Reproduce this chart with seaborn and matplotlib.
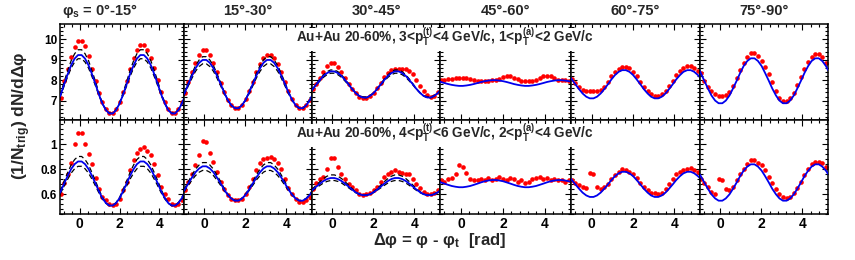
import matplotlib
matplotlib.use('Agg')
import matplotlib.pyplot as plt
import seaborn as sns
from matplotlib.ticker import MultipleLocator, FormatStrFormatter
from matplotlib.patches import Rectangle

# ---------------- data ----------------
dphi = [-0.96, -0.79, -0.61, -0.44, -0.26, -0.09, 0.09, 0.26, 0.44, 0.61, 0.79, 0.96,
        1.13, 1.31, 1.48, 1.66, 1.83, 2.01, 2.18, 2.36, 2.53, 2.71, 2.88, 3.05,
        3.23, 3.40, 3.58, 3.75, 3.93, 4.10, 4.28, 4.45, 4.63, 4.80, 4.97, 5.15]
curve_x = [-1.0, -0.96, -0.79, -0.61, -0.44, -0.26, -0.09, 0.09, 0.26, 0.44, 0.61, 0.79, 0.96,
           1.13, 1.31, 1.48, 1.66, 1.83, 2.01, 2.18, 2.36, 2.53, 2.71, 2.88, 3.05,
           3.23, 3.40, 3.58, 3.75, 3.93, 4.10, 4.28, 4.45, 4.63, 4.80, 4.97, 5.15, 5.25]

titles = ["0\u00b0-15\u00b0", "15\u00b0-30\u00b0", "30\u00b0-45\u00b0",
          "45\u00b0-60\u00b0", "60\u00b0-75\u00b0", "75\u00b0-90\u00b0"]

# top row: 3<pT(t)<4, 1<pT(a)<2
red_top_0_15 = [7.15, 7.95, 8.55, 9.15, 9.62, 9.90, 9.90, 9.65, 9.18, 8.55, 7.95, 7.35, 6.92, 6.58, 6.40, 6.40, 6.60, 6.95,
                7.42, 7.98, 8.55, 9.08, 9.48, 9.70, 9.70, 9.50, 9.10, 8.58, 8.00, 7.42, 6.95, 6.60, 6.40, 6.40, 6.58, 6.92]
red_top_15_30 = [7.35, 7.90, 8.40, 8.85, 9.25, 9.50, 9.50, 9.25, 8.85, 8.38, 7.88, 7.42, 7.05, 6.78, 6.63, 6.63, 6.78, 7.08,
                 7.48, 7.92, 8.38, 8.78, 9.08, 9.25, 9.25, 9.10, 8.80, 8.38, 7.90, 7.45, 7.06, 6.78, 6.62, 6.62, 6.76, 7.04]
red_top_30_45 = [7.55, 7.82, 8.12, 8.42, 8.68, 8.85, 8.85, 8.65, 8.40, 8.10, 7.82, 7.55, 7.35, 7.20, 7.12, 7.12, 7.22, 7.38,
                 7.62, 7.88, 8.15, 8.35, 8.48, 8.55, 8.56, 8.56, 8.55, 8.45, 8.28, 8.02, 7.72, 7.45, 7.25, 7.17, 7.22, 7.40]
red_top_45_60 = [8.00, 8.02, 8.05, 8.08, 8.10, 8.12, 8.12, 8.10, 8.05, 8.00, 7.98, 7.97, 7.98, 7.98, 8.00, 8.02, 8.08, 8.15,
                 8.22, 8.20, 8.12, 8.05, 7.98, 7.95, 7.95, 7.98, 8.03, 8.10, 8.18, 8.22, 8.18, 8.10, 8.02, 8.00, 8.00, 7.98]
red_top_60_75 = [8.05, 7.85, 7.66, 7.52, 7.46, 7.45, 7.45, 7.46, 7.52, 7.68, 7.92, 8.18, 8.40, 8.56, 8.64, 8.64, 8.58, 8.42,
                 8.18, 7.92, 7.66, 7.45, 7.30, 7.24, 7.24, 7.32, 7.48, 7.72, 7.98, 8.24, 8.46, 8.60, 8.68, 8.68, 8.60, 8.45]
red_top_75_90 = [8.35, 7.98, 7.68, 7.45, 7.30, 7.24, 7.24, 7.28, 7.42, 7.72, 8.10, 8.50, 8.85, 9.15, 9.32, 9.32, 9.18, 8.95,
                 8.65, 8.30, 7.90, 7.45, 7.12, 6.98, 6.98, 7.12, 7.38, 7.75, 8.15, 8.55, 8.90, 9.15, 9.30, 9.30, 9.12, 8.85]

blue_top_0_15 = [7.20, 7.30, 7.80, 8.30, 8.73, 9.06, 9.23, 9.23, 9.06, 8.73, 8.30, 7.80, 7.30, 6.87, 6.54, 6.37, 6.37, 6.54, 6.87,
                 7.30, 7.80, 8.30, 8.73, 9.06, 9.23, 9.23, 9.06, 8.73, 8.30, 7.80, 7.30, 6.87, 6.54, 6.37, 6.37, 6.54, 6.87, 7.11]
blue_top_15_30 = [7.31, 7.40, 7.81, 8.22, 8.58, 8.85, 8.99, 8.99, 8.85, 8.58, 8.22, 7.81, 7.40, 7.04, 6.77, 6.63, 6.63, 6.77, 7.04,
                  7.40, 7.81, 8.22, 8.58, 8.85, 8.99, 8.99, 8.85, 8.58, 8.22, 7.81, 7.40, 7.04, 6.77, 6.63, 6.63, 6.77, 7.04, 7.24]
blue_top_30_45 = [7.52, 7.57, 7.79, 8.01, 8.21, 8.35, 8.43, 8.43, 8.35, 8.21, 8.01, 7.79, 7.57, 7.37, 7.23, 7.15, 7.15, 7.23, 7.37,
                  7.57, 7.79, 8.01, 8.21, 8.35, 8.43, 8.43, 8.35, 8.21, 8.01, 7.79, 7.57, 7.37, 7.23, 7.15, 7.15, 7.23, 7.37, 7.48]
blue_top_45_60 = [7.92, 7.91, 7.86, 7.81, 7.77, 7.74, 7.72, 7.72, 7.74, 7.77, 7.81, 7.86, 7.91, 7.95, 7.98, 8.00, 8.00, 7.98, 7.95,
                  7.91, 7.86, 7.81, 7.77, 7.74, 7.72, 7.72, 7.74, 7.77, 7.81, 7.86, 7.91, 7.95, 7.98, 8.00, 8.00, 7.98, 7.95, 7.93]
blue_top_60_75 = [8.09, 8.04, 7.80, 7.56, 7.35, 7.19, 7.11, 7.11, 7.19, 7.35, 7.56, 7.80, 8.04, 8.25, 8.41, 8.49, 8.49, 8.41, 8.25,
                  8.04, 7.80, 7.56, 7.35, 7.19, 7.11, 7.11, 7.19, 7.35, 7.56, 7.80, 8.04, 8.25, 8.41, 8.49, 8.49, 8.41, 8.25, 8.13]
blue_top_75_90 = [8.44, 8.35, 7.97, 7.59, 7.25, 7.00, 6.87, 6.87, 7.00, 7.25, 7.59, 7.97, 8.35, 8.69, 8.94, 9.07, 9.07, 8.94, 8.69,
                  8.35, 7.97, 7.59, 7.25, 7.00, 6.87, 6.87, 7.00, 7.25, 7.59, 7.97, 8.35, 8.69, 8.94, 9.07, 9.07, 8.94, 8.69, 8.50]

dashhi_top_0_15 = [7.27, 7.39, 7.93, 8.47, 8.95, 9.30, 9.49, 9.49, 9.30, 8.95, 8.47, 7.93, 7.39, 6.91, 6.56, 6.37, 6.37, 6.56, 6.91,
                   7.39, 7.93, 8.47, 8.95, 9.30, 9.49, 9.49, 9.30, 8.95, 8.47, 7.93, 7.39, 6.91, 6.56, 6.37, 6.37, 6.56, 6.91, 7.18]
dashlo_top_0_15 = [7.16, 7.26, 7.72, 8.18, 8.59, 8.89, 9.05, 9.05, 8.89, 8.59, 8.18, 7.72, 7.26, 6.85, 6.55, 6.39, 6.39, 6.55, 6.85,
                   7.26, 7.72, 8.18, 8.59, 8.89, 9.05, 9.05, 8.89, 8.59, 8.18, 7.72, 7.26, 6.85, 6.55, 6.39, 6.39, 6.55, 6.85, 7.08]
dashhi_top_15_30 = [7.34, 7.44, 7.88, 8.32, 8.71, 8.99, 9.15, 9.15, 8.99, 8.71, 8.32, 7.88, 7.44, 7.05, 6.76, 6.61, 6.61, 6.76, 7.05,
                    7.44, 7.88, 8.32, 8.71, 8.99, 9.15, 9.15, 8.99, 8.71, 8.32, 7.88, 7.44, 7.05, 6.76, 6.61, 6.61, 6.76, 7.05, 7.27]
dashlo_top_15_30 = [7.26, 7.34, 7.72, 8.10, 8.43, 8.67, 8.80, 8.80, 8.67, 8.43, 8.10, 7.72, 7.34, 7.01, 6.77, 6.64, 6.64, 6.77, 7.01,
                    7.34, 7.72, 8.10, 8.43, 8.67, 8.80, 8.80, 8.67, 8.43, 8.10, 7.72, 7.34, 7.01, 6.77, 6.64, 6.64, 6.77, 7.01, 7.20]
dashhi_top_30_45 = [7.53, 7.58, 7.82, 8.06, 8.26, 8.42, 8.50, 8.50, 8.42, 8.26, 8.06, 7.82, 7.58, 7.38, 7.22, 7.14, 7.14, 7.22, 7.38,
                    7.58, 7.82, 8.06, 8.26, 8.42, 8.50, 8.50, 8.42, 8.26, 8.06, 7.82, 7.58, 7.38, 7.22, 7.14, 7.14, 7.22, 7.38, 7.49]
dashlo_top_30_45 = [7.51, 7.56, 7.76, 7.96, 8.14, 8.27, 8.34, 8.34, 8.27, 8.14, 7.96, 7.76, 7.56, 7.38, 7.25, 7.18, 7.18, 7.25, 7.38,
                    7.56, 7.76, 7.96, 8.14, 8.27, 8.34, 8.34, 8.27, 8.14, 7.96, 7.76, 7.56, 7.38, 7.25, 7.18, 7.18, 7.25, 7.38, 7.48]

# bottom row: 4<pT(t)<6, 2<pT(a)<4
red_bot_0_15 = [0.60, 0.69, 0.76, 0.85, 1.00, 1.09, 1.09, 1.00, 0.92, 0.84, 0.73, 0.64, 0.58, 0.55, 0.52, 0.51, 0.52, 0.56,
                0.63, 0.70, 0.79, 0.87, 0.93, 0.96, 0.975, 0.95, 0.91, 0.84, 0.75, 0.66, 0.60, 0.56, 0.52, 0.51, 0.52, 0.55]
red_bot_15_30 = [0.63, 0.70, 0.76, 0.83, 0.91, 1.03, 1.02, 0.93, 0.86, 0.78, 0.70, 0.64, 0.59, 0.56, 0.55, 0.55, 0.56, 0.60,
                 0.66, 0.72, 0.79, 0.85, 0.88, 0.89, 0.90, 0.88, 0.85, 0.80, 0.72, 0.65, 0.60, 0.56, 0.54, 0.54, 0.55, 0.58]
red_bot_30_45 = [0.64, 0.69, 0.72, 0.74, 0.80, 0.89, 0.89, 0.82, 0.76, 0.72, 0.68, 0.66, 0.63, 0.60, 0.59, 0.60, 0.61, 0.63,
                 0.66, 0.70, 0.74, 0.76, 0.78, 0.79, 0.78, 0.77, 0.76, 0.76, 0.72, 0.68, 0.65, 0.62, 0.60, 0.60, 0.61, 0.63]
red_bot_45_60 = [0.71, 0.70, 0.72, 0.73, 0.76, 0.83, 0.82, 0.77, 0.72, 0.71, 0.71, 0.72, 0.71, 0.73, 0.71, 0.72, 0.74, 0.72,
                 0.71, 0.73, 0.72, 0.70, 0.71, 0.69, 0.70, 0.72, 0.73, 0.74, 0.72, 0.73, 0.71, 0.72, 0.71, 0.71, 0.70, 0.71]
red_bot_60_75 = [0.71, 0.69, 0.67, 0.66, 0.65, 0.77, 0.76, 0.66, 0.64, 0.66, 0.68, 0.72, 0.75, 0.78, 0.80, 0.79, 0.78, 0.76,
                 0.73, 0.69, 0.66, 0.63, 0.61, 0.61, 0.60, 0.61, 0.64, 0.68, 0.72, 0.76, 0.78, 0.79, 0.80, 0.81, 0.79, 0.78]
red_bot_75_90 = [0.72, 0.69, 0.66, 0.62, 0.60, 0.72, 0.71, 0.64, 0.63, 0.66, 0.71, 0.76, 0.80, 0.84, 0.87, 0.87, 0.85, 0.83,
                 0.79, 0.74, 0.69, 0.64, 0.60, 0.58, 0.57, 0.58, 0.61, 0.65, 0.70, 0.75, 0.80, 0.84, 0.86, 0.86, 0.85, 0.82]

blue_bot_0_15 = [0.610, 0.623, 0.685, 0.747, 0.801, 0.841, 0.862, 0.862, 0.841, 0.801, 0.747, 0.685, 0.623, 0.569, 0.529, 0.508, 0.508, 0.529, 0.569,
                 0.623, 0.685, 0.747, 0.801, 0.841, 0.862, 0.862, 0.841, 0.801, 0.747, 0.685, 0.623, 0.569, 0.529, 0.508, 0.508, 0.529, 0.569, 0.600]
blue_bot_15_30 = [0.627, 0.637, 0.685, 0.733, 0.775, 0.806, 0.823, 0.823, 0.806, 0.775, 0.733, 0.685, 0.637, 0.595, 0.564, 0.547, 0.547, 0.564, 0.595,
                  0.637, 0.685, 0.733, 0.775, 0.806, 0.823, 0.823, 0.806, 0.775, 0.733, 0.685, 0.637, 0.595, 0.564, 0.547, 0.547, 0.564, 0.595, 0.618]
blue_bot_30_45 = [0.631, 0.636, 0.660, 0.684, 0.705, 0.721, 0.729, 0.729, 0.721, 0.705, 0.684, 0.660, 0.636, 0.615, 0.599, 0.591, 0.591, 0.599, 0.615,
                  0.636, 0.660, 0.684, 0.705, 0.721, 0.729, 0.729, 0.721, 0.705, 0.684, 0.660, 0.636, 0.615, 0.599, 0.591, 0.591, 0.599, 0.615, 0.627]
blue_bot_45_60 = [0.696, 0.694, 0.684, 0.674, 0.665, 0.659, 0.655, 0.655, 0.659, 0.665, 0.674, 0.684, 0.694, 0.703, 0.709, 0.713, 0.713, 0.709, 0.703,
                  0.694, 0.684, 0.674, 0.665, 0.659, 0.655, 0.655, 0.659, 0.665, 0.674, 0.684, 0.694, 0.703, 0.709, 0.713, 0.713, 0.709, 0.703, 0.698]
blue_bot_60_75 = [0.721, 0.713, 0.678, 0.643, 0.612, 0.589, 0.577, 0.577, 0.589, 0.612, 0.643, 0.678, 0.713, 0.744, 0.767, 0.779, 0.779, 0.767, 0.744,
                  0.713, 0.678, 0.643, 0.612, 0.589, 0.577, 0.577, 0.589, 0.612, 0.643, 0.678, 0.713, 0.744, 0.767, 0.779, 0.779, 0.767, 0.744, 0.727]
blue_bot_75_90 = [0.755, 0.744, 0.693, 0.642, 0.598, 0.565, 0.547, 0.547, 0.565, 0.598, 0.642, 0.693, 0.744, 0.788, 0.821, 0.839, 0.839, 0.821, 0.788,
                  0.744, 0.693, 0.642, 0.598, 0.565, 0.547, 0.547, 0.565, 0.598, 0.642, 0.693, 0.744, 0.788, 0.821, 0.839, 0.839, 0.821, 0.788, 0.763]

dashhi_bot_0_15 = [0.622, 0.637, 0.705, 0.773, 0.834, 0.878, 0.902, 0.902, 0.878, 0.834, 0.773, 0.705, 0.637, 0.576, 0.532, 0.508, 0.508, 0.532, 0.576,
                   0.637, 0.705, 0.773, 0.834, 0.878, 0.902, 0.902, 0.878, 0.834, 0.773, 0.705, 0.637, 0.576, 0.532, 0.508, 0.508, 0.532, 0.576, 0.610]
dashlo_bot_0_15 = [0.598, 0.610, 0.665, 0.720, 0.768, 0.804, 0.823, 0.823, 0.804, 0.768, 0.720, 0.665, 0.610, 0.562, 0.526, 0.507, 0.507, 0.526, 0.562,
                   0.610, 0.665, 0.720, 0.768, 0.804, 0.823, 0.823, 0.804, 0.768, 0.720, 0.665, 0.610, 0.562, 0.526, 0.507, 0.507, 0.526, 0.562, 0.589]
dashhi_bot_15_30 = [0.636, 0.647, 0.700, 0.753, 0.800, 0.834, 0.853, 0.853, 0.834, 0.800, 0.753, 0.700, 0.647, 0.600, 0.566, 0.547, 0.547, 0.566, 0.600,
                    0.647, 0.700, 0.753, 0.800, 0.834, 0.853, 0.853, 0.834, 0.800, 0.753, 0.700, 0.647, 0.600, 0.566, 0.547, 0.547, 0.566, 0.600, 0.626]
dashlo_bot_15_30 = [0.619, 0.628, 0.670, 0.712, 0.748, 0.776, 0.790, 0.790, 0.776, 0.748, 0.712, 0.670, 0.628, 0.592, 0.564, 0.550, 0.550, 0.564, 0.592,
                    0.628, 0.670, 0.712, 0.748, 0.776, 0.790, 0.790, 0.776, 0.748, 0.712, 0.670, 0.628, 0.592, 0.564, 0.550, 0.550, 0.564, 0.592, 0.612]
dashhi_bot_30_45 = [0.637, 0.644, 0.672, 0.700, 0.725, 0.744, 0.754, 0.754, 0.744, 0.725, 0.700, 0.672, 0.644, 0.619, 0.600, 0.590, 0.590, 0.600, 0.619,
                    0.644, 0.672, 0.700, 0.725, 0.744, 0.754, 0.754, 0.744, 0.725, 0.700, 0.672, 0.644, 0.619, 0.600, 0.590, 0.590, 0.600, 0.619, 0.632]
dashlo_bot_30_45 = [0.625, 0.630, 0.650, 0.670, 0.689, 0.702, 0.709, 0.709, 0.702, 0.689, 0.670, 0.650, 0.630, 0.611, 0.598, 0.591, 0.591, 0.598, 0.611,
                    0.630, 0.650, 0.670, 0.689, 0.702, 0.709, 0.709, 0.702, 0.689, 0.670, 0.650, 0.630, 0.611, 0.598, 0.591, 0.591, 0.598, 0.611, 0.621]

rows = [
    dict(red=[red_top_0_15, red_top_15_30, red_top_30_45, red_top_45_60, red_top_60_75, red_top_75_90],
         blue=[blue_top_0_15, blue_top_15_30, blue_top_30_45, blue_top_45_60, blue_top_60_75, blue_top_75_90],
         hi=[dashhi_top_0_15, dashhi_top_15_30, dashhi_top_30_45, None, None, None],
         lo=[dashlo_top_0_15, dashlo_top_15_30, dashlo_top_30_45, None, None, None],
         ylim=(6.05, 10.75), major=1.0, minor=0.2,
         label="Au+Au 20-60%, 3<$\\mathregular{p_{T}^{(t)}}$<4 GeV/c, 1<$\\mathregular{p_{T}^{(a)}}$<2 GeV/c"),
    dict(red=[red_bot_0_15, red_bot_15_30, red_bot_30_45, red_bot_45_60, red_bot_60_75, red_bot_75_90],
         blue=[blue_bot_0_15, blue_bot_15_30, blue_bot_30_45, blue_bot_45_60, blue_bot_60_75, blue_bot_75_90],
         hi=[dashhi_bot_0_15, dashhi_bot_15_30, dashhi_bot_30_45, None, None, None],
         lo=[dashlo_bot_0_15, dashlo_bot_15_30, dashlo_bot_30_45, None, None, None],
         ylim=(0.44, 1.195), major=0.2, minor=0.04,
         label="Au+Au 20-60%, 4<$\\mathregular{p_{T}^{(t)}}$<6 GeV/c, 2<$\\mathregular{p_{T}^{(a)}}$<4 GeV/c"),
]

# ---------------- style ----------------
sns.set_theme(style='ticks')
plt.rcParams['font.family'] = ['Liberation Sans', 'DejaVu Sans']
plt.rcParams['font.weight'] = 'bold'
plt.rcParams['mathtext.default'] = 'regular'

W, H = 855, 260
fig = plt.figure(figsize=(W / 100, H / 100), dpi=100)
fig.patch.set_facecolor('white')

xb = [60, 184, 312, 440, 571, 700, 828]
yb = [(24, 120), (120, 214)]

for r, row in enumerate(rows):
    t, b = yb[r]
    for c in range(6):
        l, rr = xb[c], xb[c + 1]
        ax = fig.add_axes([l / W, 1 - b / H, (rr - l) / W, (b - t) / H])
        ax.set_facecolor('white')
        sns.scatterplot(x=dphi, y=row['red'][c], ax=ax, color='#ff0000', s=11,
                        linewidth=0, marker='o', zorder=2, legend=False)
        if row['hi'][c] is not None:
            sns.lineplot(x=curve_x, y=row['hi'][c], ax=ax, color='black', lw=0.9,
                         linestyle=(0, (4, 2.5)), sort=False, estimator=None, zorder=3)
            sns.lineplot(x=curve_x, y=row['lo'][c], ax=ax, color='black', lw=0.9,
                         linestyle=(0, (4, 2.5)), sort=False, estimator=None, zorder=3)
        sns.lineplot(x=curve_x, y=row['blue'][c], ax=ax, color='#0000ee', lw=1.3,
                     sort=False, estimator=None, zorder=4)
        ax.set_xlim(-1.0, 5.25)
        ax.set_ylim(*row['ylim'])
        ax.xaxis.set_major_locator(MultipleLocator(2))
        ax.xaxis.set_minor_locator(MultipleLocator(0.4))
        ax.yaxis.set_major_locator(MultipleLocator(row['major']))
        ax.yaxis.set_minor_locator(MultipleLocator(row['minor']))
        ax.yaxis.set_major_formatter(FormatStrFormatter('%g'))
        ax.tick_params(which='both', direction='in', top=True, right=True,
                       colors='black', width=0.8)
        ax.tick_params(which='major', length=4)
        ax.tick_params(which='minor', length=2)
        ax.tick_params(axis='x', labelsize=10, pad=2)
        ax.tick_params(axis='y', labelsize=8.5, pad=2)
        if c != 0:
            ax.tick_params(axis='y', labelleft=False)
        if r != 1:
            ax.tick_params(axis='x', labelbottom=False)
        ax.set_xlabel('')
        ax.set_ylabel('')
        for s in ax.spines.values():
            s.set_linewidth(1.1)
            s.set_color('black')
        if r == 0:
            cx = 100 if c == 0 else (l + rr) / 2
            txt = ("\u03c6$_\\mathregular{s}$ = " + titles[c]) if c == 0 else titles[c]
            fig.text(cx / W, 1 - 11 / H, txt, ha='center', va='center',
                     fontsize=10.5, fontweight='bold')

    # white label box covering the frames, as in the original
    fig.patches.append(Rectangle(((290) / W, 1 - (t + 27) / H), 340 / W, 23 / H,
                                 transform=fig.transFigure, facecolor='white',
                                 edgecolor='none', zorder=5))
    fig.text(296 / W, 1 - (t + 19) / H, row['label'], ha='left', va='baseline',
             fontsize=9.8, fontweight='bold', zorder=6)

fig.text(22 / W, 1 - 116 / H, "(1/N$_\\mathregular{trig}$) dN/d\u0394\u03c6", rotation=90,
         ha='center', va='center', fontsize=12.5, fontweight='bold')
fig.text(440 / W, 1 - 241 / H, "\u0394\u03c6 = \u03c6 - \u03c6$_\\mathregular{t}$  [rad]",
         ha='center', va='center', fontsize=12, fontweight='bold')

fig.savefig('out.png', dpi=100, facecolor='white')
